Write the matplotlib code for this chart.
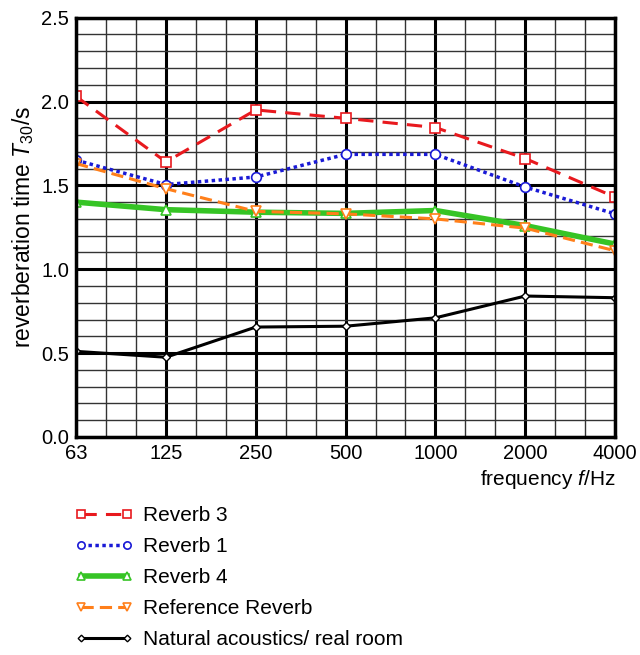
import matplotlib.pyplot as plt
import numpy as np

plt.rcParams['font.family'] = ['Liberation Sans', 'DejaVu Sans']
plt.rcParams['mathtext.fontset'] = 'custom'
plt.rcParams['mathtext.it'] = 'Liberation Sans:italic'
plt.rcParams['mathtext.rm'] = 'Liberation Sans'

freqs = ['63', '125', '250', '500', '1000', '2000', '4000']
reverb3 = [2.03, 1.64, 1.95, 1.90, 1.845, 1.66, 1.43]
reverb1 = [1.65, 1.505, 1.55, 1.685, 1.685, 1.49, 1.33]
reverb4 = [1.40, 1.355, 1.34, 1.333, 1.35, 1.26, 1.15]
reference = [1.63, 1.48, 1.345, 1.33, 1.30, 1.245, 1.11]
natural = [0.51, 0.475, 0.655, 0.66, 0.71, 0.84, 0.83]

x = np.arange(len(freqs))

fig = plt.figure(figsize=(6.4, 6.55), dpi=100)
ax = fig.add_axes([0.119, 0.333, 0.842, 0.64])

# grid: octave lines thick, third-octave + 0.1 s lines thin
for xv in np.arange(0, 6.01, 1/3):
    major = abs(xv - round(xv)) < 1e-6
    ax.axvline(xv, color='black' if major else '#333333', lw=2.2 if major else 1.0, zorder=1)
for yv in np.arange(0, 2.51, 0.1):
    major = abs(yv * 2 - round(yv * 2)) < 1e-6
    ax.axhline(yv, color='black' if major else '#333333', lw=2.2 if major else 1.0, zorder=1)

ax.plot(x, reverb3, color='#e8191e', ls=(0, (5, 3)), lw=2.2, marker='s', ms=7,
        mfc='white', mec='#e8191e', mew=1.2, label='Reverb 3', zorder=5)
ax.plot(x, reverb1, color='#1a1ad6', ls=(0, (1, 1)), lw=2.5, marker='o', ms=7,
        mfc='white', mec='#1a1ad6', mew=1.2, label='Reverb 1', zorder=5)
ax.plot(x, reverb4, color='#36c425', ls='-', lw=4, marker='^', ms=7,
        mfc='white', mec='#36c425', mew=1.2, label='Reverb 4', zorder=4)
ax.plot(x, reference, color='#ff7f1a', ls=(0, (4, 2)), lw=2.2, marker='v', ms=7,
        mfc='white', mec='#ff7f1a', mew=1.2, label='Reference Reverb', zorder=5)
ax.plot(x, natural, color='black', ls='-', lw=2.2, marker='D', ms=4.5,
        mfc='white', mec='black', mew=1.0, label='Natural acoustics/ real room', zorder=5)

ax.set_xlim(0, 6)
ax.set_ylim(0, 2.5)
ax.set_xticks(x)
ax.set_xticklabels(freqs)
ax.set_yticks(np.arange(0, 2.51, 0.5))
ax.set_yticklabels(['%.1f' % v for v in np.arange(0, 2.51, 0.5)])
ax.tick_params(length=0, labelsize=14.5, pad=5)
for s in ax.spines.values():
    s.set_linewidth(2.5)
    s.set_zorder(6)

ax.set_ylabel('reverberation time $T_{30}$/s', fontsize=16.5, labelpad=4)
ax.set_xlabel('frequency $f$/Hz', fontsize=15, loc='right', labelpad=4)

fig.legend(loc='upper left', bbox_to_anchor=(0.088, 0.256), frameon=False,
           numpoints=2, handlelength=2.8, labelspacing=0.58, fontsize=15,
           handletextpad=0.45, markerscale=0.75)

fig.savefig('out.png', dpi=100)
